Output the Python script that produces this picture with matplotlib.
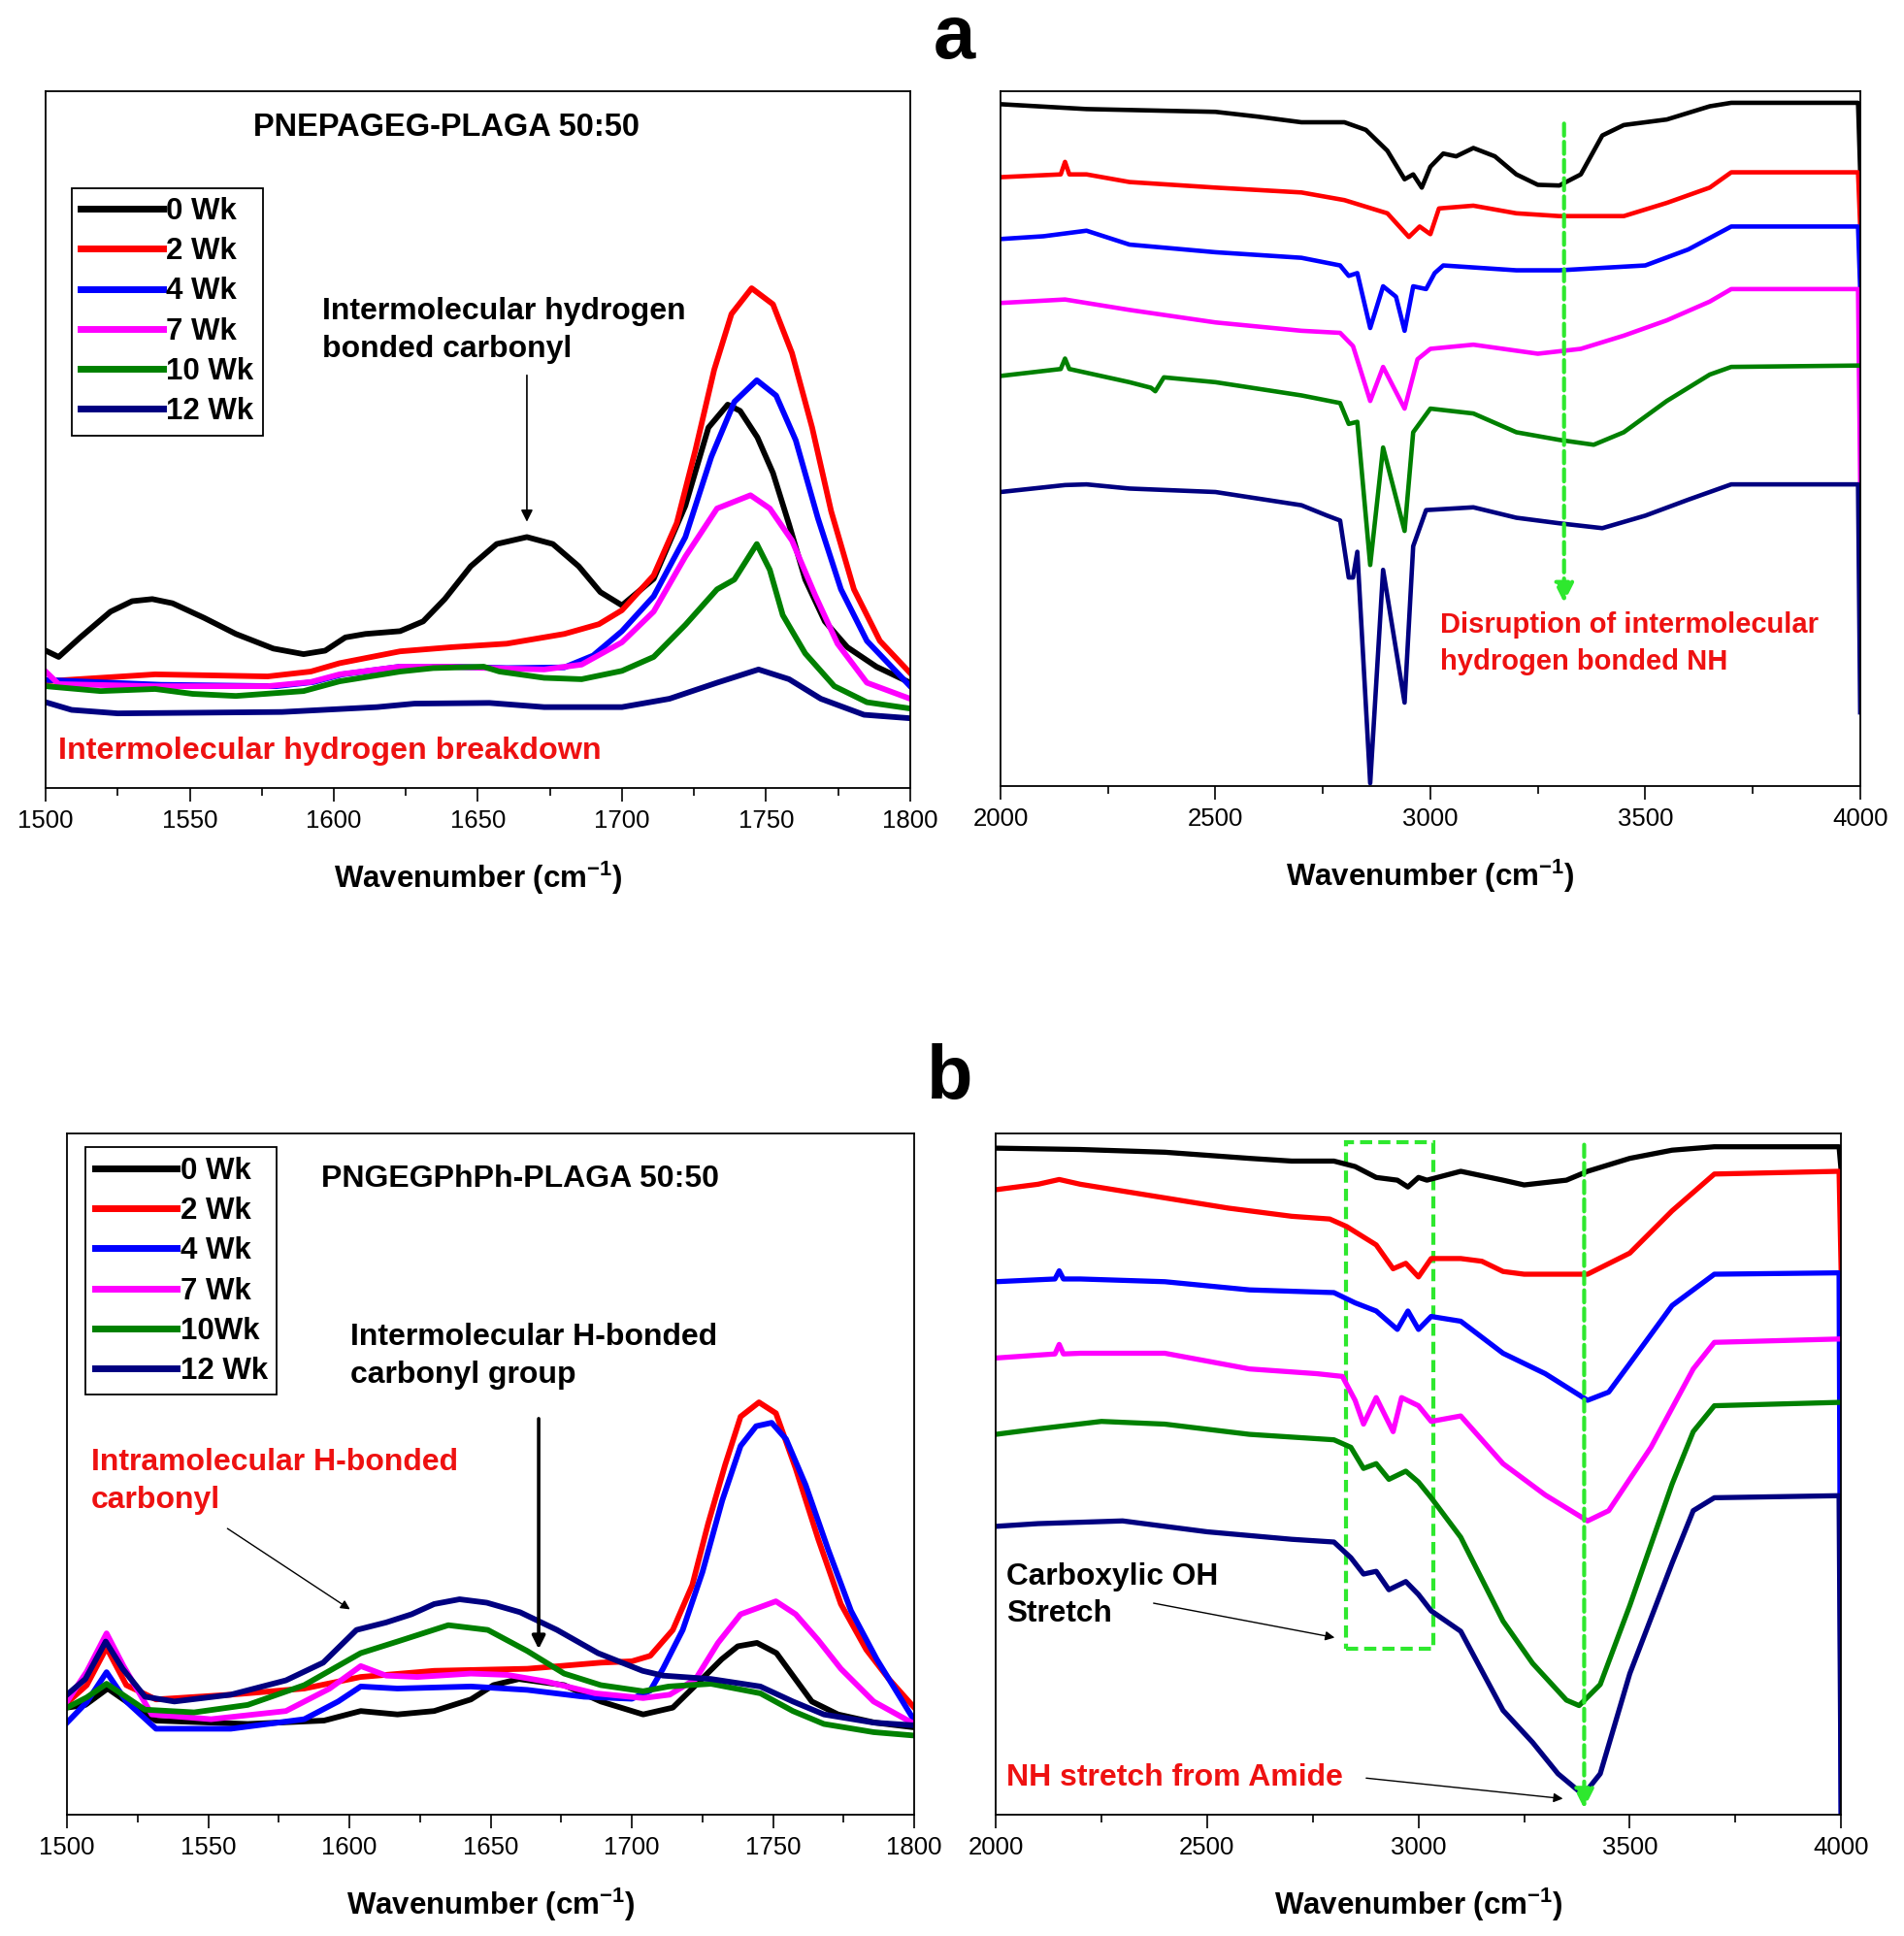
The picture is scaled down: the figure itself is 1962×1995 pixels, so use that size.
import numpy as np
import matplotlib
matplotlib.use('Agg')
from matplotlib import pyplot as plt

plt.rcParams['font.family'] = ['Liberation Sans', 'DejaVu Sans']
plt.rcParams['mathtext.default'] = 'regular'

labels_a = ['0 Wk', '2 Wk', '4 Wk', '7 Wk', '10 Wk', '12 Wk']
labels_b = ['0 Wk', '2 Wk', '4 Wk', '7 Wk', '10Wk', '12 Wk']
colors = ['black', '#ff0000', '#0000ff', '#ff00ff', '#008000', '#000080']

# ---- panel a, left : 1500-1800 cm-1 ----
a1_x0 = [1500, 1504.5, 1512, 1522.5, 1530, 1537, 1544, 1555, 1566, 1579, 1589.5, 1597, 1604, 1611, 1623,
         1631, 1638.5, 1647.5, 1656.5, 1667, 1676, 1685, 1692.5, 1700, 1711, 1722, 1730, 1736.7, 1741,
         1747, 1752.4, 1758, 1763.6, 1770.4, 1778.2, 1788.3, 1800]
a1_y0 = [19.7, 18.8, 21.6, 25.3, 26.8, 27.1, 26.5, 24.4, 22.1, 20.0, 19.2, 19.7, 21.6, 22.1, 22.5,
         23.9, 27.1, 31.8, 35.0, 36.0, 35.0, 31.8, 28.1, 26.2, 30.0, 40.5, 51.7, 55.0, 54.1,
         50.3, 45.2, 37.8, 29.9, 23.9, 20.2, 17.4, 15.1]
a1_x2 = [1500, 1538, 1577, 1592, 1602, 1623, 1641, 1660, 1680, 1692, 1700, 1711, 1719, 1725.5, 1732,
         1738, 1745, 1752.4, 1759, 1766, 1772.6, 1780.5, 1789.5, 1800]
a1_y2 = [15.3, 16.3, 16.0, 16.7, 17.9, 19.6, 20.2, 20.7, 22.1, 23.5, 25.5, 30.5, 38.0, 48.5, 60.0,
         68.0, 71.7, 69.4, 62.4, 51.7, 39.7, 28.5, 21.1, 16.5]
a1_x4 = [1500, 1540, 1580, 1593, 1603, 1623, 1641, 1660, 1680, 1690, 1700, 1711, 1722, 1731, 1739,
         1746.8, 1753.5, 1760.3, 1768, 1776, 1785, 1800]
a1_y4 = [15.5, 14.8, 14.6, 15.2, 16.3, 17.4, 17.4, 17.2, 17.3, 19.0, 22.5, 27.5, 36.0, 47.5, 55.4,
         58.5, 56.3, 49.9, 38.7, 28.5, 21.1, 14.6]
a1_x7 = [1500, 1504.5, 1538, 1577, 1592, 1602, 1623, 1641, 1654, 1673, 1686, 1700, 1711, 1722, 1733,
         1744.6, 1751.3, 1759, 1767, 1774.8, 1785, 1800]
a1_y7 = [16.7, 14.9, 14.6, 14.6, 15.2, 16.3, 17.4, 17.4, 17.2, 17.0, 17.7, 20.9, 25.3, 33.2, 40.1,
         42.0, 40.1, 35.5, 27.7, 20.7, 15.1, 12.8]
a1_x10 = [1500, 1519, 1538, 1551, 1566, 1589.5, 1602, 1623, 1634.5, 1652, 1657.5, 1673, 1686, 1700,
          1711, 1722, 1733, 1739, 1746.8, 1751.3, 1755.8, 1763.6, 1773.7, 1785, 1800]
a1_y10 = [14.6, 13.9, 14.2, 13.5, 13.2, 13.9, 15.3, 16.7, 17.2, 17.4, 16.7, 15.8, 15.6, 16.8,
          18.8, 23.4, 28.5, 29.9, 35.0, 31.3, 24.8, 19.3, 14.6, 12.3, 11.4]
a1_x12 = [1500, 1509, 1525, 1582, 1615, 1628, 1654, 1673, 1700, 1716.5, 1733, 1747.4, 1758, 1769, 1784, 1800]
a1_y12 = [12.3, 11.2, 10.7, 10.9, 11.6, 12.1, 12.2, 11.6, 11.6, 12.8, 15.1, 17.0, 15.6, 12.8, 10.5, 10.0]

# ---- panel a, right : 2000-4000 cm-1 ----
a2_x0 = [2000, 2200, 2500, 2600, 2700, 2800, 2850, 2900, 2940, 2960, 2980, 3000, 3030, 3060, 3100, 3150,
         3200, 3250, 3300, 3350, 3400, 3450, 3550, 3650, 3700, 3995, 4000]
a2_y0 = [98.1, 97.4, 97.0, 96.3, 95.5, 95.5, 94.4, 91.4, 87.3, 88.0, 86.1, 89.1, 91.0, 90.6, 91.8, 90.6,
         88.0, 86.5, 86.4, 88.0, 93.6, 95.1, 95.9, 97.8, 98.3, 98.3, 88.3]
a2_x2 = [2000, 2140, 2150, 2160, 2200, 2300, 2500, 2700, 2800, 2900, 2950, 2975, 3000, 3020, 3100, 3200,
         3300, 3450, 3550, 3650, 3700, 3995, 4000]
a2_y2 = [87.6, 88.0, 89.8, 88.0, 88.0, 86.9, 86.1, 85.4, 84.3, 82.4, 79.0, 80.5, 79.4, 83.1, 83.5, 82.4,
         82.0, 82.0, 83.9, 86.1, 88.3, 88.3, 80.5]
a2_x4 = [2000, 2100, 2200, 2300, 2500, 2700, 2790, 2810, 2830, 2860, 2890, 2920, 2940, 2960, 2990, 3010,
         3030, 3200, 3300, 3500, 3600, 3700, 3995, 4000]
a2_y4 = [78.7, 79.1, 79.9, 77.9, 76.8, 76.0, 74.9, 73.4, 73.8, 65.9, 71.9, 70.4, 65.5, 71.9, 71.5, 73.8,
         74.9, 74.2, 74.2, 74.9, 77.2, 80.5, 80.5, 71.5]
a2_x7 = [2000, 2150, 2300, 2500, 2700, 2790, 2820, 2860, 2890, 2940, 2970, 3000, 3100, 3250, 3350, 3450,
         3550, 3650, 3700, 3995, 4000]
a2_y7 = [69.5, 70.0, 68.5, 66.7, 65.5, 65.2, 63.3, 55.4, 60.3, 54.3, 61.4, 62.9, 63.5, 62.2, 62.9, 64.8,
         67.0, 69.7, 71.5, 71.5, 43.4]
a2_x10 = [2000, 2140, 2150, 2160, 2300, 2350, 2360, 2380, 2500, 2700, 2790, 2810, 2830, 2860, 2890, 2940,
          2960, 3000, 3100, 3200, 3300, 3380, 3450, 3550, 3650, 3700, 4000]
a2_y10 = [59.0, 60.0, 61.5, 60.0, 58.1, 57.3, 56.8, 58.8, 58.1, 56.2, 55.1, 52.1, 52.4, 31.8, 48.7, 36.7,
          50.9, 54.3, 53.6, 50.9, 49.8, 49.1, 50.9, 55.4, 59.2, 60.3, 60.5]
a2_x12 = [2000, 2150, 2200, 2300, 2500, 2700, 2760, 2790, 2810, 2820, 2830, 2860, 2890, 2940, 2960, 2990,
          3100, 3200, 3300, 3400, 3500, 3600, 3700, 3995, 4000]
a2_y12 = [42.3, 43.3, 43.4, 42.8, 42.3, 40.4, 38.9, 38.2, 30.0, 30.0, 33.7, 0.4, 31.1, 12.0, 34.5, 39.7,
          40.1, 38.6, 37.8, 37.1, 38.9, 41.2, 43.4, 43.4, 10.6]

# ---- panel b, left : 1500-1800 cm-1 ----
b1_x0 = [1500, 1506.5, 1514.4, 1521, 1531.5, 1564, 1591, 1604, 1617, 1630, 1643, 1651, 1660, 1676, 1689,
         1704, 1714.5, 1722.6, 1731.8, 1737.5, 1744.3, 1751.2, 1757, 1763.7, 1773, 1786, 1800]
b1_y0 = [15.7, 16.1, 18.5, 16.6, 13.8, 13.3, 13.8, 15.2, 14.7, 15.2, 16.9, 19.0, 19.9, 19.0, 16.6,
         14.7, 15.7, 19.0, 22.8, 24.7, 25.2, 23.7, 20.4, 16.6, 14.7, 13.5, 12.8]
b1_x2 = [1500, 1507, 1514, 1521, 1531.5, 1558, 1584, 1604, 1630, 1663, 1689, 1700, 1706.5, 1714.5,
         1721.4, 1727, 1733, 1738.5, 1745, 1751, 1758, 1766, 1774, 1783, 1791, 1800]
b1_y2 = [16.4, 19.0, 24.5, 19.0, 16.9, 17.6, 18.5, 20.2, 21.1, 21.4, 22.3, 22.5, 23.3, 27.1,
         33.7, 42.7, 51.3, 58.4, 60.5, 58.9, 50.8, 40.4, 30.9, 24.2, 19.9, 15.7]
b1_x4 = [1500, 1507, 1514, 1521, 1531.5, 1558, 1584, 1596, 1604, 1617, 1643, 1663, 1683, 1700, 1706.5,
         1711, 1718, 1725, 1732, 1738.5, 1744, 1749.5, 1754.6, 1761.5, 1769.5, 1777.6, 1786.7, 1800]
b1_y4 = [13.5, 16.5, 20.9, 16.6, 12.6, 12.6, 14.0, 16.6, 18.8, 18.5, 18.8, 18.3, 17.3, 17.0, 18.2,
         21.4, 27.1, 35.6, 46.1, 54.1, 57.0, 57.5, 55.1, 48.4, 38.9, 29.9, 22.8, 13.8]
b1_x7 = [1500, 1507, 1514, 1520, 1530, 1551, 1577.5, 1593, 1604, 1613, 1624, 1643, 1656, 1670, 1687,
         1704, 1713.4, 1722.6, 1730.5, 1738.5, 1751, 1758, 1766, 1774, 1785.6, 1800]
b1_y7 = [16.6, 21.0, 26.6, 21.8, 14.7, 14.0, 15.2, 18.5, 21.8, 20.4, 20.2, 20.7, 20.5, 19.5, 17.8,
         17.1, 17.6, 19.9, 25.2, 29.4, 31.3, 29.4, 25.6, 21.4, 16.6, 13.3]
b1_x10 = [1500, 1507, 1514, 1527.6, 1545, 1564, 1584, 1604, 1617, 1635, 1649, 1663, 1676, 1689, 1704,
          1713, 1728, 1745.5, 1757, 1768, 1785.6, 1800]
b1_y10 = [15.7, 17.2, 19.2, 15.4, 15.0, 16.1, 19.0, 23.7, 25.4, 27.8, 27.1, 24.0, 20.7, 19.0, 18.1,
          18.8, 19.2, 17.8, 15.2, 13.3, 12.1, 11.6]
b1_x12 = [1500, 1506.5, 1513.7, 1519.7, 1527.6, 1538, 1558, 1577.5, 1590.7, 1602.5, 1613, 1622, 1630,
          1639, 1648.6, 1660.4, 1673.5, 1688, 1703.8, 1711, 1728, 1745.5, 1757, 1768, 1785.6, 1800]
b1_y12 = [17.6, 19.9, 25.4, 21.4, 17.3, 16.6, 17.6, 19.7, 22.3, 27.1, 28.2, 29.4, 30.9,
          31.6, 31.1, 29.7, 27.1, 23.7, 21.1, 20.4, 19.9, 18.8, 16.6, 14.7, 13.5, 13.1]

# ---- panel b, right : 2000-4000 cm-1 ----
b2_x0 = [2000, 2200, 2400, 2600, 2700, 2800, 2850, 2900, 2950, 2975, 3000, 3020, 3100, 3200, 3250, 3350,
         3400, 3500, 3600, 3700, 3995, 4000]
b2_y0 = [97.8, 97.6, 97.2, 96.3, 95.9, 95.9, 95.1, 93.5, 93.1, 92.1, 93.5, 93.1, 94.4, 93.1, 92.4, 93.1,
         94.4, 96.3, 97.5, 98.0, 98.0, 94.4]
b2_x2 = [2000, 2100, 2150, 2200, 2400, 2550, 2700, 2790, 2830, 2900, 2940, 2970, 3000, 3030, 3100, 3150,
         3200, 3250, 3400, 3500, 3600, 3700, 3995, 4000]
b2_y2 = [91.7, 92.5, 93.2, 92.5, 90.5, 89.0, 87.8, 87.4, 86.3, 83.6, 80.1, 80.9, 78.9, 81.6, 81.6, 81.2,
         79.7, 79.3, 79.3, 82.4, 88.6, 94.0, 94.4, 79.5]
b2_x4 = [2000, 2140, 2150, 2160, 2200, 2400, 2600, 2800, 2850, 2900, 2950, 2975, 3000, 3030, 3100, 3200,
         3300, 3400, 3450, 3500, 3600, 3700, 3995, 4000]
b2_y4 = [78.2, 78.6, 79.8, 78.6, 78.6, 78.2, 77.0, 76.6, 75.1, 73.9, 71.2, 73.9, 71.2, 73.1, 72.4, 67.7,
         64.7, 60.8, 62.0, 66.2, 74.7, 79.3, 79.5, 0.0]
b2_x7 = [2000, 2140, 2150, 2160, 2200, 2400, 2600, 2760, 2820, 2850, 2870, 2900, 2940, 2960, 3000, 3030,
         3100, 3200, 3300, 3400, 3450, 3550, 3650, 3700, 4000]
b2_y7 = [67.0, 67.6, 69.0, 67.6, 67.7, 67.7, 65.4, 64.7, 64.3, 60.8, 57.3, 61.2, 56.2, 61.2, 60.0, 57.7,
         58.5, 51.5, 46.9, 43.1, 44.6, 53.9, 65.4, 69.3, 69.8]
b2_x10 = [2000, 2100, 2250, 2400, 2600, 2800, 2840, 2870, 2900, 2930, 2970, 3000, 3030, 3100, 3200, 3270,
          3350, 3380, 3430, 3500, 3600, 3650, 3700, 4000]
b2_y10 = [55.8, 56.6, 57.7, 57.3, 55.8, 55.0, 53.9, 50.8, 51.5, 49.2, 50.4, 48.8, 46.5, 40.7, 28.4, 22.2,
          16.8, 16.0, 19.1, 30.7, 48.5, 56.2, 60.0, 60.5]
b2_x12 = [2000, 2100, 2300, 2500, 2700, 2800, 2840, 2870, 2900, 2930, 2970, 3000, 3030, 3100, 3200, 3270,
          3330, 3390, 3430, 3500, 3600, 3650, 3700, 3995, 4000]
b2_y12 = [42.3, 42.7, 43.1, 41.5, 40.4, 40.0, 37.7, 35.3, 35.7, 33.0, 34.2, 32.3, 29.9, 26.9, 15.3, 10.6,
          6.0, 2.9, 6.0, 20.7, 36.9, 44.6, 46.5, 46.8, 0.0]

green = '#2ee82e'

fig = plt.figure(figsize=(19.62, 19.95), dpi=100)


def setup(ax, xmin, xmax, major, minor):
    ax.set_xlim(xmin, xmax)
    ax.set_ylim(0, 100)
    ax.set_xticks(np.arange(xmin, xmax + 1, major))
    ax.set_xticks(np.arange(xmin, xmax + 1, minor), minor=True)
    ax.set_yticks([])
    ax.tick_params(axis='x', which='major', direction='out', length=10, width=1.2, labelsize=18.5, pad=6)
    ax.tick_params(axis='x', which='minor', direction='out', length=6, width=1.2)
    for s in ax.spines.values():
        s.set_linewidth(1.3)
    ax.set_xlabel('Wavenumber (cm$^{-1}$)', fontsize=22.5, fontweight='bold', labelpad=20)


def draw(ax, xs, ys, lw, labels=None):
    for i in range(6):
        ax.plot(xs[i], ys[i], color=colors[i], lw=lw, solid_joinstyle='round',
                label=labels[i] if labels else None)


def legend(ax, x0, y1):
    lg = ax.legend(loc='upper left', bbox_to_anchor=(x0, y1), borderaxespad=0, fancybox=False,
                   edgecolor='black', framealpha=1, handlelength=2.7,
                   handletextpad=0.12, labelspacing=0.36, borderpad=0.3,
                   prop={'weight': 'bold', 'size': 22.5})
    lg.get_frame().set_linewidth(1.3)
    for l in lg.get_lines():
        l.set_linewidth(5)


# panel a left
ax1 = fig.add_axes([0.024, 0.593, 0.454, 0.360])
draw(ax1, [a1_x0, a1_x2, a1_x4, a1_x7, a1_x10, a1_x12],
     [a1_y0, a1_y2, a1_y4, a1_y7, a1_y10, a1_y12], 4.2, labels_a)
setup(ax1, 1500, 1800, 50, 25)
legend(ax1, 0.030, 0.861)
ax1.text(1639, 94.7, 'PNEPAGEG-PLAGA 50:50', ha='center', va='center', fontsize=23.5, fontweight='bold')
ax1.text(1596, 65.6, 'Intermolecular hydrogen\nbonded carbonyl', ha='left', va='center',
         fontsize=23, fontweight='bold', linespacing=1.4)
ax1.annotate('', xy=(1667, 37.8), xytext=(1667, 59.6),
             arrowprops=dict(arrowstyle='-|>', color='black', lw=1.2, mutation_scale=18))
ax1.text(1504.5, 5.3, 'Intermolecular hydrogen breakdown', ha='left', va='center',
         fontsize=23.3, fontweight='bold', color='#ee1111')

# panel a right
ax2 = fig.add_axes([0.5255, 0.594, 0.4515, 0.359])
draw(ax2, [a2_x0, a2_x2, a2_x4, a2_x7, a2_x10, a2_x12],
     [a2_y0, a2_y2, a2_y4, a2_y7, a2_y10, a2_y12], 3.3)
setup(ax2, 2000, 4000, 500, 250)
ax2.annotate('', xy=(3311, 26.0), xytext=(3311, 95.7),
             arrowprops=dict(arrowstyle='-|>', color=green, lw=3, linestyle=(0, (3, 1.5)),
                             mutation_scale=30))
ax2.text(3022, 20.5, 'Disruption of intermolecular\nhydrogen bonded NH', ha='left', va='center',
         fontsize=21, fontweight='bold', color='#ee1111', linespacing=1.45)

# panel b left
ax3 = fig.add_axes([0.0352, 0.0627, 0.445, 0.352])
draw(ax3, [b1_x0, b1_x2, b1_x4, b1_x7, b1_x10, b1_x12],
     [b1_y0, b1_y2, b1_y4, b1_y7, b1_y10, b1_y12], 4.2, labels_b)
setup(ax3, 1500, 1800, 50, 25)
legend(ax3, 0.022, 0.979)
ax3.text(1660.5, 93.3, 'PNGEGPhPh-PLAGA 50:50', ha='center', va='center', fontsize=23, fontweight='bold')
ax3.text(1600.3, 67.3, 'Intermolecular H-bonded\ncarbonyl group', ha='left', va='center',
         fontsize=23, fontweight='bold', linespacing=1.4)
ax3.annotate('', xy=(1667, 23.9), xytext=(1667, 58.5),
             arrowprops=dict(arrowstyle='-|>', color='black', lw=2.6, mutation_scale=20))
ax3.text(1508.6, 48.9, 'Intramolecular H-bonded\ncarbonyl', ha='left', va='center',
         fontsize=23, fontweight='bold', color='#ee1111', linespacing=1.4)
ax3.annotate('', xy=(1601, 29.9), xytext=(1556, 42.2),
             arrowprops=dict(arrowstyle='-|>', color='black', lw=1.0, mutation_scale=14))

# panel b right
ax4 = fig.add_axes([0.523, 0.0627, 0.444, 0.352])
draw(ax4, [b2_x0, b2_x2, b2_x4, b2_x7, b2_x10, b2_x12],
     [b2_y0, b2_y2, b2_y4, b2_y7, b2_y10, b2_y12], 3.8)
setup(ax4, 2000, 4000, 500, 250)
ax4.add_patch(plt.Rectangle((2829, 24.4), 3036 - 2829, 98.7 - 24.4, fill=False, edgecolor=green,
                            lw=3, linestyle=(0, (3, 1.5))))
ax4.annotate('', xy=(3392, 0.5), xytext=(3392, 98.7),
             arrowprops=dict(arrowstyle='-|>', color=green, lw=3, linestyle=(0, (3, 1.5)),
                             mutation_scale=30))
ax4.text(2025, 32.2, 'Carboxylic OH\nStretch', ha='left', va='center',
         fontsize=22.8, fontweight='bold', linespacing=1.35)
ax4.annotate('', xy=(2808, 25.9), xytext=(2367, 31.1),
             arrowprops=dict(arrowstyle='-|>', color='black', lw=1.0, mutation_scale=14))
ax4.text(2025, 5.4, 'NH stretch from Amide', ha='left', va='center',
         fontsize=23, fontweight='bold', color='#ee1111')
ax4.annotate('', xy=(3348, 2.3), xytext=(2870, 5.4),
             arrowprops=dict(arrowstyle='-|>', color='black', lw=1.0, mutation_scale=14))

fig.text(0.501, 0.970, 'a', ha='center', va='baseline', fontsize=56, fontweight='bold')
fig.text(0.499, 0.4326, 'b', ha='center', va='baseline', fontsize=56, fontweight='bold')

fig.savefig('out.png', dpi=100, facecolor='white')
